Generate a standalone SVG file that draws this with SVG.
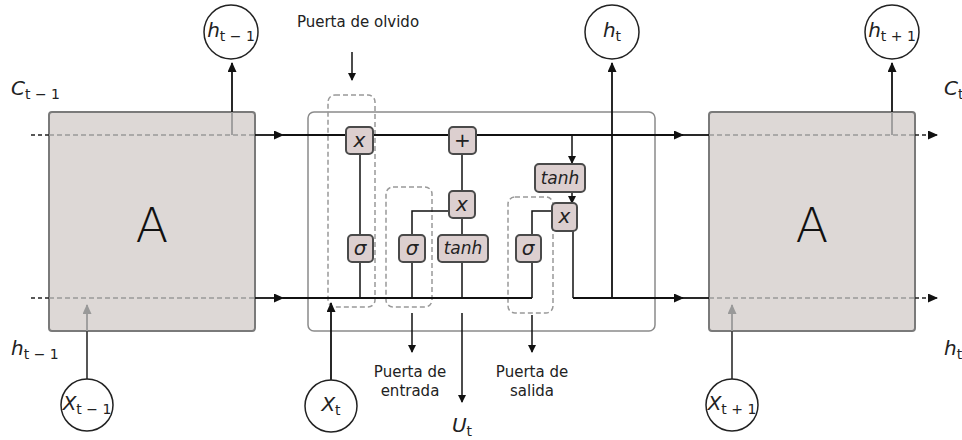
<svg xmlns="http://www.w3.org/2000/svg" width="962" height="440" viewBox="0 0 962 440">
<defs>
<marker id="ah" markerWidth="10" markerHeight="9" refX="9" refY="4.5" orient="auto" markerUnits="userSpaceOnUse"><path d="M0,0 L10,4.5 L0,9 z" fill="#111"/></marker>
<marker id="ahs" markerWidth="8" markerHeight="8" refX="7" refY="4" orient="auto" markerUnits="userSpaceOnUse"><path d="M0,0 L8,4 L0,8 z" fill="#111"/></marker>
<marker id="ahg" markerWidth="10" markerHeight="9" refX="9" refY="4.5" orient="auto" markerUnits="userSpaceOnUse"><path d="M0,0 L10,4.5 L0,9 z" fill="#999"/></marker>
</defs>
<style>
.cell{fill:#ddd8d6;stroke:#7a7a7a;stroke-width:2}
.frame{fill:#fff;stroke:#8a8a8a;stroke-width:1.5}
.gate{fill:#dccfcf;stroke:#4a4a4a;stroke-width:2}
.reg{fill:none;stroke:#999;stroke-width:1.5;stroke-dasharray:5 3}
.circ{fill:#fff;stroke:#222;stroke-width:1.5}
.ln{fill:none;stroke:#111;stroke-width:1.8}
.thin{fill:none;stroke:#111;stroke-width:1.5}
.gd{fill:none;stroke:#999;stroke-width:1.5;stroke-dasharray:5 3}
.dd{fill:none;stroke:#222;stroke-width:1.5;stroke-dasharray:4 3}
.gl{fill:none;stroke:#999;stroke-width:1.8}
.dg{fill:none;stroke:#444;stroke-width:1.8}
text{font-family:"DejaVu Sans","Liberation Sans",sans-serif;fill:#222}
.lbl{font-size:15px}
.gt{font-style:italic;font-size:20px;text-anchor:middle}
.mi{font-style:italic;font-size:20px}
.sb{font-size:14px}
.big{font-family:"DejaVu Sans",sans-serif;font-weight:200;font-size:48px;text-anchor:middle;fill:#111}
</style>
<rect width="962" height="440" fill="#fff"/>
<g id="cell-prev"><rect class="cell" x="49" y="112" width="206" height="219" rx="3"/><text class="big" x="152" y="242">A</text></g>
<g id="cell-next"><rect class="cell" x="709" y="112" width="206" height="219" rx="3"/><text class="big" x="812" y="242">A</text></g>
<g id="cell-center"><rect class="frame" x="308" y="112" width="347" height="219" rx="6"/></g>
<g id="regions">
<rect class="reg" x="328" y="95" width="47" height="212" rx="7"/>
<rect class="reg" x="386" y="187" width="46" height="120" rx="7"/>
<rect class="reg" x="508" y="197" width="45" height="116" rx="7"/>
</g>
<g id="connectors">
<path class="dd" d="M31,135 H49"/>
<path class="gd" d="M49,135 H255"/>
<path class="ln" d="M255,135 H283" marker-end="url(#ah)"/>
<path class="ln" d="M283,135 H683" marker-end="url(#ah)"/>
<path class="ln" d="M683,135 H709"/>
<path class="gd" d="M709,135 H915"/>
<path class="dd" d="M915,135 H937" marker-end="url(#ah)"/>
<path class="dd" d="M31,298 H49"/>
<path class="gd" d="M49,298 H255"/>
<path class="ln" d="M255,298 H283" marker-end="url(#ah)"/>
<path class="ln" d="M283,298 H532"/>
<path class="ln" d="M573,298 H683" marker-end="url(#ah)"/>
<path class="ln" d="M683,298 H709"/>
<path class="gd" d="M709,298 H915"/>
<path class="dd" d="M915,298 H937" marker-end="url(#ah)"/>
<path class="gl" d="M232,135 V112"/>
<path class="ln" d="M232,112 V63" marker-end="url(#ah)"/>
<path class="ln" d="M612,298 V63" marker-end="url(#ah)"/>
<path class="gl" d="M892,135 V112"/>
<path class="ln" d="M892,112 V63" marker-end="url(#ah)"/>
<path class="dg" d="M87,379 V331"/>
<path class="gl" d="M87,331 V305" marker-end="url(#ahg)"/>
<path class="ln" d="M331,380 V303" marker-end="url(#ah)"/>
<path class="dg" d="M732,379 V331"/>
<path class="gl" d="M732,331 V305" marker-end="url(#ahg)"/>
<path class="thin" d="M360,298 V153"/>
<path class="thin" d="M412,298 V211 H449"/>
<path class="thin" d="M462,298 V154"/>
<path class="thin" d="M532,298 V211 H552"/>
<path class="thin" d="M572,135 V163" marker-end="url(#ahs)"/>
<path class="thin" d="M572,192 V203" marker-end="url(#ahs)"/>
<path class="thin" d="M573,231 V298"/>
<path class="thin" d="M412,313 V352" marker-end="url(#ahs)"/>
<path class="thin" d="M462,313 V402" marker-end="url(#ahs)"/>
<path class="thin" d="M532,315 V352" marker-end="url(#ahs)"/>
<path class="thin" d="M352,52 V80" marker-end="url(#ahs)"/>
</g>
<g id="g-forget-x"><rect class="gate" x="346" y="127" width="27" height="27" rx="4"/><text class="gt" x="359.5" y="147">x</text></g>
<g id="g-plus"><rect class="gate" x="449" y="127" width="27" height="27" rx="4"/><text x="462.5" y="147" style="font-size:20px;text-anchor:middle">+</text></g>
<g id="g-input-x"><rect class="gate" x="449" y="191" width="26" height="27" rx="4"/><text class="gt" x="462" y="211">x</text></g>
<g id="g-sig-f"><rect class="gate" x="348" y="235" width="25" height="27" rx="4"/><text class="gt" x="360" y="255">σ</text></g>
<g id="g-sig-i"><rect class="gate" x="399" y="235" width="26" height="27" rx="4"/><text class="gt" x="412" y="255">σ</text></g>
<g id="g-tanh"><rect class="gate" x="438" y="235" width="50" height="27" rx="4"/><text class="gt" x="463" y="254" style="font-size:17px">tanh</text></g>
<g id="g-sig-o"><rect class="gate" x="516" y="235" width="25" height="27" rx="4"/><text class="gt" x="528" y="255">σ</text></g>
<g id="g-tanh2"><rect class="gate" x="535" y="164" width="50" height="28" rx="4"/><text class="gt" x="560" y="184" style="font-size:17px">tanh</text></g>
<g id="g-out-x"><rect class="gate" x="552" y="203" width="25" height="28" rx="4"/><text class="gt" x="564.5" y="223">x</text></g>
<g id="h-prev"><circle class="circ" cx="231" cy="32" r="27"/><text x="231" y="37" text-anchor="middle"><tspan class="mi">h</tspan><tspan class="sb" dy="4">t − 1</tspan></text></g>
<g id="h-cur"><circle class="circ" cx="612" cy="32" r="27"/><text x="612" y="37" text-anchor="middle"><tspan class="mi">h</tspan><tspan class="sb" dy="4">t</tspan></text></g>
<g id="h-next"><circle class="circ" cx="892" cy="32" r="27"/><text x="892" y="37" text-anchor="middle"><tspan class="mi">h</tspan><tspan class="sb" dy="4">t + 1</tspan></text></g>
<g id="x-prev"><circle class="circ" cx="87" cy="405" r="26"/><text x="87" y="410" text-anchor="middle"><tspan class="mi">X</tspan><tspan class="sb" dy="4">t − 1</tspan></text></g>
<g id="x-cur"><circle class="circ" cx="331" cy="406" r="26"/><text x="331" y="411" text-anchor="middle"><tspan class="mi">X</tspan><tspan class="sb" dy="4">t</tspan></text></g>
<g id="x-next"><circle class="circ" cx="732" cy="405" r="26"/><text x="732" y="410" text-anchor="middle"><tspan class="mi">X</tspan><tspan class="sb" dy="4">t + 1</tspan></text></g>
<g id="labels">
<text x="11" y="95"><tspan class="mi">C</tspan><tspan class="sb" dy="4">t − 1</tspan></text>
<text x="11" y="355"><tspan class="mi">h</tspan><tspan class="sb" dy="4">t − 1</tspan></text>
<text x="944" y="95"><tspan class="mi">C</tspan><tspan class="sb" dy="4">t</tspan></text>
<text x="944" y="355"><tspan class="mi">h</tspan><tspan class="sb" dy="4">t</tspan></text>
<text x="462" y="432" text-anchor="middle"><tspan class="mi">U</tspan><tspan class="sb" dy="4">t</tspan></text>
<text class="lbl" x="358" y="27" text-anchor="middle">Puerta de olvido</text>
<text class="lbl" x="410" y="377" text-anchor="middle">Puerta de</text>
<text class="lbl" x="410" y="396" text-anchor="middle">entrada</text>
<text class="lbl" x="532" y="377" text-anchor="middle">Puerta de</text>
<text class="lbl" x="532" y="396" text-anchor="middle">salida</text>
</g>
</svg>
